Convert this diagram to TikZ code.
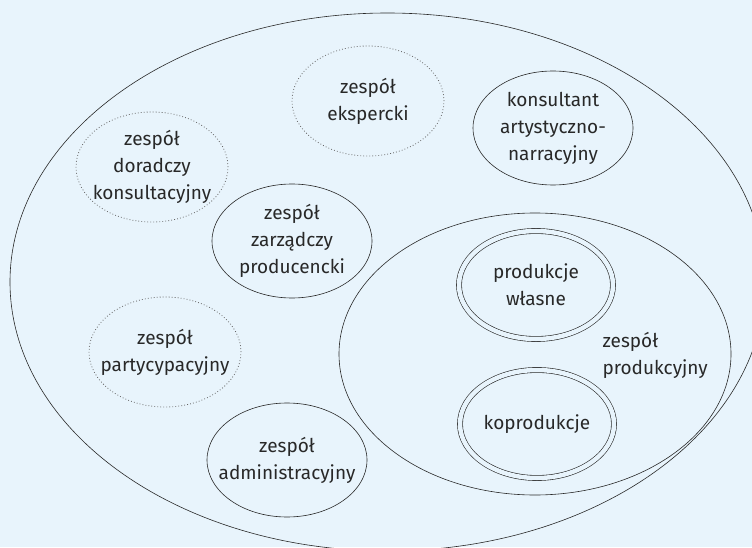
\documentclass[tikz,border=0pt]{standalone}
\usepackage{fontspec}
\setmainfont{Fira Sans}
\usetikzlibrary{shapes.geometric}

\definecolor{bgblue}{RGB}{232,244,252}
\definecolor{inkgray}{RGB}{40,40,40}
\definecolor{dotgray}{RGB}{100,100,100}

\tikzset{
	team/.style={ellipse, draw=inkgray, line width=0.6pt, align=center,
		inner xsep=-20pt, inner ysep=-5pt, minimum width=160, minimum height=114,
		text=inkgray, font=\fontsize{19}{27}\selectfont},
	loose/.style={team, draw=dotgray, line width=0.8pt, dash pattern=on 0.8pt off 2.2pt,
		minimum width=152, minimum height=110},
	project/.style={team, double=bgblue, double distance=4.5pt,
		minimum width=154, minimum height=108},
	caption/.style={text=inkgray, align=left, font=\fontsize{19}{27}\selectfont}
}

\begin{document}
\begin{tikzpicture}[x=1pt, y=1pt]

	% ---- canvas

	\fill[bgblue] (0,0) rectangle (752,547);
	\useasboundingbox (0,0) rectangle (752,547);
	\clip (0,0) rectangle (752,547);

	% ---- outer frame

	\node[ellipse, draw=inkgray, line width=0.6pt, minimum width=755, minimum height=538]
		(studio) at (387.5,265) {};

	% ---- teams

	\node[loose] (eksperci) at (368,446) {zespół\\ekspercki};
	\node[team] (konsultant) at (553,419) {konsultant\\artystyczno-\\narracyjny};
	\node[loose] (doradcy) at (152,380) {zespół\\doradczy\\konsultacyjny};
	\node[team] (zarzad) at (292,306) {zespół\\zarządczy\\producencki};
	\node[loose] (partycypacja) at (165,195) {zespół\\partycypacyjny};
	\node[team] (administracja) at (287,87) {zespół\\administracyjny};

	% ---- production

	\node[ellipse, draw=inkgray, line width=0.6pt, minimum width=392, minimum height=282]
		(produkcja) at (535,193) {};
	\node[caption, anchor=west] (produkcjaopis) at (599,192) {zespół\\produkcyjny};

	\node[project] (wlasne) at (536,262) {produkcje\\własne};
	\node[project] (koprodukcje) at (537,123) {koprodukcje};

\end{tikzpicture}
\end{document}
